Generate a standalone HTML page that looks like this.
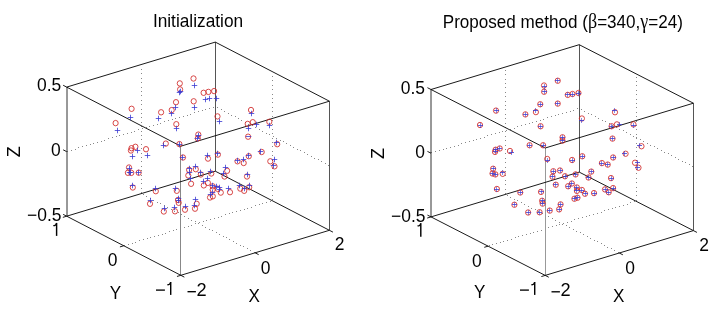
<!DOCTYPE html>
<html><head><meta charset="utf-8"><style>
html,body{margin:0;padding:0;background:#fff;width:720px;height:312px;overflow:hidden}
svg{display:block}
text{font-family:"Liberation Sans",sans-serif;font-size:18px;fill:#000}
.e{stroke:#000;stroke-width:0.9;fill:none}
.v{stroke:#000;stroke-width:0.9;fill:none}
.t{stroke:#000;stroke-width:0.9;fill:none}
.gd{fill:#888;stroke:none}
.tx{opacity:0.995}
.c{stroke:#d02828;stroke-width:0.85;fill:none}
.p{stroke:#3a3ad2;stroke-width:0.8;fill:none}
</style></head><body>
<svg width="720" height="312" viewBox="0 0 720 312">
<rect width="720" height="312" fill="#fff"/>
<path class="gd" d="M254 252h1v1h-1zM250 250h1v1h-1zM247 248h1v1h-1zM243 246h1v1h-1zM240 245h1v1h-1zM236 243h1v1h-1zM233 241h1v1h-1zM229 239h1v1h-1zM226 237h1v1h-1zM223 236h1v1h-1zM219 234h1v1h-1zM216 232h1v1h-1zM212 230h1v1h-1zM209 229h1v1h-1zM205 227h1v1h-1zM202 225h1v1h-1zM198 223h1v1h-1zM195 221h1v1h-1zM191 220h1v1h-1zM188 218h1v1h-1zM184 216h1v1h-1zM181 214h1v1h-1zM178 212h1v1h-1zM174 211h1v1h-1zM171 209h1v1h-1zM167 207h1v1h-1zM164 205h1v1h-1zM160 203h1v1h-1zM157 202h1v1h-1zM153 200h1v1h-1zM150 198h1v1h-1zM146 196h1v1h-1zM143 194h1v1h-1zM124 245h1v1h-1zM128 244h1v1h-1zM132 243h1v1h-1zM135 242h1v1h-1zM139 240h1v1h-1zM143 239h1v1h-1zM147 238h1v1h-1zM150 237h1v1h-1zM154 236h1v1h-1zM158 235h1v1h-1zM162 234h1v1h-1zM165 233h1v1h-1zM169 231h1v1h-1zM173 230h1v1h-1zM176 229h1v1h-1zM180 228h1v1h-1zM184 227h1v1h-1zM188 226h1v1h-1zM191 225h1v1h-1zM195 223h1v1h-1zM199 222h1v1h-1zM203 221h1v1h-1zM206 220h1v1h-1zM210 219h1v1h-1zM214 218h1v1h-1zM218 217h1v1h-1zM221 216h1v1h-1zM225 214h1v1h-1zM229 213h1v1h-1zM232 212h1v1h-1zM236 211h1v1h-1zM240 210h1v1h-1zM244 209h1v1h-1zM247 208h1v1h-1zM251 207h1v1h-1zM255 205h1v1h-1zM259 204h1v1h-1zM262 203h1v1h-1zM266 202h1v1h-1zM270 201h1v1h-1zM141 192h1v1h-1zM141 188h1v1h-1zM141 183h1v1h-1zM141 179h1v1h-1zM141 175h1v1h-1zM141 170h1v1h-1zM141 166h1v1h-1zM141 161h1v1h-1zM141 157h1v1h-1zM141 153h1v1h-1zM141 148h1v1h-1zM141 144h1v1h-1zM141 139h1v1h-1zM141 135h1v1h-1zM141 131h1v1h-1zM141 126h1v1h-1zM141 122h1v1h-1zM141 117h1v1h-1zM141 113h1v1h-1zM141 109h1v1h-1zM141 104h1v1h-1zM141 100h1v1h-1zM141 95h1v1h-1zM141 91h1v1h-1zM141 87h1v1h-1zM141 82h1v1h-1zM141 78h1v1h-1zM141 73h1v1h-1zM141 69h1v1h-1zM67 151h1v1h-1zM71 150h1v1h-1zM75 149h1v1h-1zM78 147h1v1h-1zM82 146h1v1h-1zM86 145h1v1h-1zM90 144h1v1h-1zM93 143h1v1h-1zM97 142h1v1h-1zM101 141h1v1h-1zM104 140h1v1h-1zM108 138h1v1h-1zM112 137h1v1h-1zM116 136h1v1h-1zM119 135h1v1h-1zM123 134h1v1h-1zM127 133h1v1h-1zM131 132h1v1h-1zM134 131h1v1h-1zM138 129h1v1h-1zM142 128h1v1h-1zM146 127h1v1h-1zM149 126h1v1h-1zM153 125h1v1h-1zM157 124h1v1h-1zM160 123h1v1h-1zM164 121h1v1h-1zM168 120h1v1h-1zM172 119h1v1h-1zM175 118h1v1h-1zM179 117h1v1h-1zM183 116h1v1h-1zM187 115h1v1h-1zM190 114h1v1h-1zM194 112h1v1h-1zM198 111h1v1h-1zM202 110h1v1h-1zM205 109h1v1h-1zM209 108h1v1h-1zM213 107h1v1h-1zM272 199h1v1h-1zM272 195h1v1h-1zM272 190h1v1h-1zM272 186h1v1h-1zM272 182h1v1h-1zM272 177h1v1h-1zM272 173h1v1h-1zM272 168h1v1h-1zM272 164h1v1h-1zM272 160h1v1h-1zM272 155h1v1h-1zM272 151h1v1h-1zM272 146h1v1h-1zM272 142h1v1h-1zM272 138h1v1h-1zM272 133h1v1h-1zM272 129h1v1h-1zM272 124h1v1h-1zM272 120h1v1h-1zM272 116h1v1h-1zM272 111h1v1h-1zM272 107h1v1h-1zM272 102h1v1h-1zM272 98h1v1h-1zM272 94h1v1h-1zM272 89h1v1h-1zM272 85h1v1h-1zM272 80h1v1h-1zM272 76h1v1h-1zM328 165h1v1h-1zM325 163h1v1h-1zM321 161h1v1h-1zM318 159h1v1h-1zM314 158h1v1h-1zM311 156h1v1h-1zM307 154h1v1h-1zM304 152h1v1h-1zM300 150h1v1h-1zM297 149h1v1h-1zM293 147h1v1h-1zM290 145h1v1h-1zM286 143h1v1h-1zM283 141h1v1h-1zM280 140h1v1h-1zM276 138h1v1h-1zM273 136h1v1h-1zM269 134h1v1h-1zM266 133h1v1h-1zM262 131h1v1h-1zM259 129h1v1h-1zM255 127h1v1h-1zM252 125h1v1h-1zM248 124h1v1h-1zM245 122h1v1h-1zM241 120h1v1h-1zM238 118h1v1h-1zM235 116h1v1h-1zM231 115h1v1h-1zM228 113h1v1h-1zM224 111h1v1h-1zM221 109h1v1h-1zM217 107h1v1h-1z"/>
<line x1="180.50" y1="275.30" x2="180.50" y2="146.20" stroke="#888" stroke-width="1"/>
<line x1="67.00" y1="216.20" x2="67.00" y2="87.10" stroke="#333" stroke-width="1"/>
<line x1="329.50" y1="230.30" x2="329.50" y2="101.20" stroke="#555" stroke-width="1"/>
<line x1="215.50" y1="171.20" x2="215.50" y2="42.10" stroke="#555" stroke-width="1"/>
<line x1="180.80" y1="275.30" x2="66.70" y2="216.20" class="e"/>
<line x1="180.80" y1="146.20" x2="66.70" y2="87.10" class="e"/>
<line x1="329.40" y1="230.30" x2="215.30" y2="171.20" class="e"/>
<line x1="329.40" y1="101.20" x2="215.30" y2="42.10" class="e"/>
<line x1="180.80" y1="275.30" x2="329.40" y2="230.30" class="e"/>
<line x1="180.80" y1="146.20" x2="329.40" y2="101.20" class="e"/>
<line x1="66.70" y1="216.20" x2="215.30" y2="171.20" class="e"/>
<line x1="66.70" y1="87.10" x2="215.30" y2="42.10" class="e"/>
<line x1="66.70" y1="216.20" x2="63.15" y2="214.36" class="t"/>
<line x1="66.70" y1="151.65" x2="63.15" y2="149.81" class="t"/>
<line x1="66.70" y1="87.10" x2="63.15" y2="85.26" class="t"/>
<line x1="180.80" y1="275.30" x2="176.97" y2="276.46" class="t"/>
<line x1="123.75" y1="245.75" x2="119.92" y2="246.91" class="t"/>
<line x1="66.70" y1="216.20" x2="62.87" y2="217.36" class="t"/>
<line x1="180.80" y1="275.30" x2="184.35" y2="277.14" class="t"/>
<line x1="255.10" y1="252.80" x2="258.65" y2="254.64" class="t"/>
<line x1="329.40" y1="230.30" x2="332.95" y2="232.14" class="t"/>
<path class="gd" d="M618 252h1v1h-1zM614 250h1v1h-1zM611 248h1v1h-1zM607 247h1v1h-1zM604 245h1v1h-1zM601 243h1v1h-1zM597 241h1v1h-1zM594 240h1v1h-1zM590 238h1v1h-1zM587 236h1v1h-1zM583 234h1v1h-1zM580 232h1v1h-1zM576 231h1v1h-1zM573 229h1v1h-1zM569 227h1v1h-1zM566 225h1v1h-1zM562 224h1v1h-1zM559 222h1v1h-1zM555 220h1v1h-1zM552 218h1v1h-1zM548 216h1v1h-1zM545 215h1v1h-1zM542 213h1v1h-1zM538 211h1v1h-1zM535 209h1v1h-1zM531 208h1v1h-1zM528 206h1v1h-1zM524 204h1v1h-1zM521 202h1v1h-1zM517 200h1v1h-1zM514 199h1v1h-1zM510 197h1v1h-1zM507 195h1v1h-1zM489 245h1v1h-1zM492 244h1v1h-1zM496 243h1v1h-1zM500 242h1v1h-1zM503 241h1v1h-1zM507 240h1v1h-1zM511 239h1v1h-1zM515 237h1v1h-1zM518 236h1v1h-1zM522 235h1v1h-1zM526 234h1v1h-1zM530 233h1v1h-1zM533 232h1v1h-1zM537 231h1v1h-1zM541 230h1v1h-1zM545 228h1v1h-1zM548 227h1v1h-1zM552 226h1v1h-1zM556 225h1v1h-1zM559 224h1v1h-1zM563 223h1v1h-1zM567 222h1v1h-1zM571 221h1v1h-1zM574 219h1v1h-1zM578 218h1v1h-1zM582 217h1v1h-1zM586 216h1v1h-1zM589 215h1v1h-1zM593 214h1v1h-1zM597 213h1v1h-1zM601 212h1v1h-1zM604 210h1v1h-1zM608 209h1v1h-1zM612 208h1v1h-1zM615 207h1v1h-1zM619 206h1v1h-1zM623 205h1v1h-1zM627 204h1v1h-1zM630 202h1v1h-1zM634 201h1v1h-1zM505 193h1v1h-1zM505 189h1v1h-1zM505 184h1v1h-1zM505 180h1v1h-1zM505 175h1v1h-1zM505 171h1v1h-1zM505 167h1v1h-1zM505 162h1v1h-1zM505 158h1v1h-1zM505 153h1v1h-1zM505 149h1v1h-1zM505 145h1v1h-1zM505 140h1v1h-1zM505 136h1v1h-1zM505 131h1v1h-1zM505 127h1v1h-1zM505 123h1v1h-1zM505 118h1v1h-1zM505 114h1v1h-1zM505 109h1v1h-1zM505 105h1v1h-1zM505 101h1v1h-1zM505 96h1v1h-1zM505 92h1v1h-1zM505 87h1v1h-1zM505 83h1v1h-1zM505 79h1v1h-1zM505 74h1v1h-1zM505 70h1v1h-1zM431 152h1v1h-1zM435 151h1v1h-1zM439 150h1v1h-1zM443 149h1v1h-1zM446 148h1v1h-1zM450 147h1v1h-1zM454 146h1v1h-1zM458 145h1v1h-1zM461 143h1v1h-1zM465 142h1v1h-1zM469 141h1v1h-1zM473 140h1v1h-1zM476 139h1v1h-1zM480 138h1v1h-1zM484 137h1v1h-1zM487 135h1v1h-1zM491 134h1v1h-1zM495 133h1v1h-1zM499 132h1v1h-1zM502 131h1v1h-1zM506 130h1v1h-1zM510 129h1v1h-1zM514 128h1v1h-1zM517 126h1v1h-1zM521 125h1v1h-1zM525 124h1v1h-1zM529 123h1v1h-1zM532 122h1v1h-1zM536 121h1v1h-1zM540 120h1v1h-1zM543 119h1v1h-1zM547 117h1v1h-1zM551 116h1v1h-1zM555 115h1v1h-1zM558 114h1v1h-1zM562 113h1v1h-1zM566 112h1v1h-1zM570 111h1v1h-1zM573 110h1v1h-1zM577 108h1v1h-1zM636 200h1v1h-1zM636 195h1v1h-1zM636 191h1v1h-1zM636 187h1v1h-1zM636 182h1v1h-1zM636 178h1v1h-1zM636 173h1v1h-1zM636 169h1v1h-1zM636 165h1v1h-1zM636 160h1v1h-1zM636 156h1v1h-1zM636 151h1v1h-1zM636 147h1v1h-1zM636 143h1v1h-1zM636 138h1v1h-1zM636 134h1v1h-1zM636 129h1v1h-1zM636 125h1v1h-1zM636 121h1v1h-1zM636 116h1v1h-1zM636 112h1v1h-1zM636 107h1v1h-1zM636 103h1v1h-1zM636 99h1v1h-1zM636 94h1v1h-1zM636 90h1v1h-1zM636 85h1v1h-1zM636 81h1v1h-1zM636 77h1v1h-1zM692 166h1v1h-1zM689 164h1v1h-1zM685 162h1v1h-1zM682 161h1v1h-1zM678 159h1v1h-1zM675 157h1v1h-1zM671 155h1v1h-1zM668 153h1v1h-1zM664 152h1v1h-1zM661 150h1v1h-1zM657 148h1v1h-1zM654 146h1v1h-1zM650 145h1v1h-1zM647 143h1v1h-1zM643 141h1v1h-1zM640 139h1v1h-1zM636 137h1v1h-1zM633 136h1v1h-1zM630 134h1v1h-1zM626 132h1v1h-1zM623 130h1v1h-1zM619 129h1v1h-1zM616 127h1v1h-1zM612 125h1v1h-1zM609 123h1v1h-1zM605 121h1v1h-1zM602 120h1v1h-1zM598 118h1v1h-1zM595 116h1v1h-1zM591 114h1v1h-1zM588 113h1v1h-1zM584 111h1v1h-1zM581 109h1v1h-1z"/>
<line x1="545.50" y1="275.40" x2="545.50" y2="148.00" stroke="#999" stroke-width="1"/>
<line x1="431.00" y1="216.90" x2="431.00" y2="89.50" stroke="#333" stroke-width="1"/>
<line x1="693.50" y1="230.60" x2="693.50" y2="103.20" stroke="#555" stroke-width="1"/>
<line x1="579.50" y1="172.10" x2="579.50" y2="44.70" stroke="#555" stroke-width="1"/>
<line x1="545.20" y1="275.40" x2="431.00" y2="216.90" class="e"/>
<line x1="545.20" y1="148.00" x2="431.00" y2="89.50" class="e"/>
<line x1="693.40" y1="230.60" x2="579.20" y2="172.10" class="e"/>
<line x1="693.40" y1="103.20" x2="579.20" y2="44.70" class="e"/>
<line x1="545.20" y1="275.40" x2="693.40" y2="230.60" class="e"/>
<line x1="545.20" y1="148.00" x2="693.40" y2="103.20" class="e"/>
<line x1="431.00" y1="216.90" x2="579.20" y2="172.10" class="e"/>
<line x1="431.00" y1="89.50" x2="579.20" y2="44.70" class="e"/>
<line x1="431.00" y1="216.90" x2="427.44" y2="215.08" class="t"/>
<line x1="431.00" y1="153.20" x2="427.44" y2="151.38" class="t"/>
<line x1="431.00" y1="89.50" x2="427.44" y2="87.68" class="t"/>
<line x1="545.20" y1="275.40" x2="541.37" y2="276.56" class="t"/>
<line x1="488.10" y1="246.15" x2="484.27" y2="247.31" class="t"/>
<line x1="431.00" y1="216.90" x2="427.17" y2="218.06" class="t"/>
<line x1="545.20" y1="275.40" x2="548.76" y2="277.22" class="t"/>
<line x1="619.30" y1="253.00" x2="622.86" y2="254.82" class="t"/>
<line x1="693.40" y1="230.60" x2="696.96" y2="232.42" class="t"/>
<g class="tx"><text style="font-size:19.2px" transform="translate(152.88,26.5) scale(0.9004,1)">Initialization</text>
<text transform="translate(37.03,91.30) scale(0.9700,1)">0.5</text>
<text transform="translate(50.93,156.30) scale(0.9700,1)">0</text>
<text transform="translate(27.03,220.50) scale(0.9700,1)">−0.5</text>
<path d="M56.60 222.90V235.90" stroke="#000" stroke-width="1.45" fill="none"/><path d="M53.30 225.65L54.70 225.50Q56.20 225.10 56.50 223.10" stroke="#000" stroke-width="1.3" fill="none"/>
<text transform="translate(107.83,265.80) scale(0.9700,1)">0</text>
<path d="M156.00 290.10H164.90" stroke="#000" stroke-width="1.35" fill="none"/>
<path d="M170.70 282.00V294.90" stroke="#000" stroke-width="1.45" fill="none"/><path d="M167.40 284.75L168.80 284.60Q170.30 284.20 170.60 282.20" stroke="#000" stroke-width="1.3" fill="none"/>
<path d="M187.50 291.70H195.90" stroke="#000" stroke-width="1.35" fill="none"/>
<text transform="translate(196.49,296.40) scale(1.0125,1)">2</text>
<text transform="translate(260.83,273.80) scale(0.9700,1)">0</text>
<text transform="translate(334.83,250.00) scale(0.9700,1)">2</text>
<text transform="translate(248.55,301.70) scale(0.9500,1)">X</text>
<text transform="translate(109.75,298.80) scale(0.9500,1)">Y</text>
<text transform="translate(20.0,157.3) rotate(-90) scale(1.0,1)">Z</text>
<text style="font-size:19.2px" transform="translate(442.75,27.8) scale(0.8901,1)">Proposed method (<tspan style="font-family:'Liberation Serif';font-size:20.3px">β</tspan>=340,<tspan style="font-family:'Liberation Serif';font-size:20.3px">γ</tspan>=24)</text>
<text transform="translate(400.73,93.80) scale(0.9700,1)">0.5</text>
<text transform="translate(415.13,157.60) scale(0.9700,1)">0</text>
<text transform="translate(391.03,221.70) scale(0.9700,1)">−0.5</text>
<path d="M420.80 223.20V236.80" stroke="#000" stroke-width="1.45" fill="none"/><path d="M417.50 225.95L418.90 225.80Q420.40 225.40 420.70 223.40" stroke="#000" stroke-width="1.3" fill="none"/>
<text transform="translate(472.03,266.50) scale(0.9700,1)">0</text>
<path d="M520.00 290.10H528.90" stroke="#000" stroke-width="1.35" fill="none"/>
<path d="M534.70 282.00V294.90" stroke="#000" stroke-width="1.45" fill="none"/><path d="M531.40 284.75L532.80 284.60Q534.30 284.20 534.60 282.20" stroke="#000" stroke-width="1.3" fill="none"/>
<path d="M551.50 291.80H559.90" stroke="#000" stroke-width="1.35" fill="none"/>
<text transform="translate(560.49,296.40) scale(1.0125,1)">2</text>
<text transform="translate(625.23,274.00) scale(0.9700,1)">0</text>
<text transform="translate(699.23,250.50) scale(0.9700,1)">2</text>
<text transform="translate(612.95,301.70) scale(0.9500,1)">X</text>
<text transform="translate(474.05,297.70) scale(0.9500,1)">Y</text>
<text transform="translate(384.1,158.9) rotate(-90) scale(1.0,1)">Z</text></g>
<ellipse cx="131.60" cy="108.80" rx="2.60" ry="2.70" class="c"/>
<ellipse cx="161.10" cy="112.30" rx="2.60" ry="2.70" class="c"/>
<ellipse cx="171.70" cy="110.10" rx="2.60" ry="2.70" class="c"/>
<ellipse cx="176.00" cy="102.20" rx="2.60" ry="2.70" class="c"/>
<ellipse cx="179.80" cy="83.40" rx="2.60" ry="2.70" class="c"/>
<ellipse cx="180.10" cy="89.40" rx="2.60" ry="2.70" class="c"/>
<ellipse cx="193.50" cy="78.50" rx="2.60" ry="2.70" class="c"/>
<ellipse cx="193.70" cy="101.30" rx="2.60" ry="2.70" class="c"/>
<ellipse cx="203.60" cy="92.80" rx="2.60" ry="2.70" class="c"/>
<ellipse cx="208.40" cy="91.90" rx="2.60" ry="2.70" class="c"/>
<ellipse cx="214.10" cy="91.10" rx="2.60" ry="2.70" class="c"/>
<ellipse cx="217.50" cy="116.40" rx="2.60" ry="2.70" class="c"/>
<ellipse cx="251.00" cy="110.00" rx="2.60" ry="2.70" class="c"/>
<ellipse cx="247.70" cy="123.90" rx="2.60" ry="2.70" class="c"/>
<ellipse cx="252.80" cy="122.20" rx="2.60" ry="2.70" class="c"/>
<ellipse cx="269.30" cy="121.80" rx="2.60" ry="2.70" class="c"/>
<ellipse cx="248.10" cy="136.70" rx="2.60" ry="2.70" class="c"/>
<ellipse cx="277.20" cy="144.20" rx="2.60" ry="2.70" class="c"/>
<ellipse cx="115.60" cy="123.10" rx="2.60" ry="2.70" class="c"/>
<ellipse cx="176.30" cy="124.20" rx="2.60" ry="2.70" class="c"/>
<ellipse cx="198.30" cy="134.60" rx="2.60" ry="2.70" class="c"/>
<ellipse cx="197.80" cy="138.40" rx="2.60" ry="2.70" class="c"/>
<ellipse cx="165.80" cy="143.60" rx="2.60" ry="2.70" class="c"/>
<ellipse cx="179.40" cy="144.10" rx="2.60" ry="2.70" class="c"/>
<ellipse cx="131.50" cy="148.20" rx="2.60" ry="2.70" class="c"/>
<ellipse cx="135.40" cy="146.80" rx="2.60" ry="2.70" class="c"/>
<ellipse cx="130.90" cy="150.50" rx="2.60" ry="2.70" class="c"/>
<ellipse cx="146.00" cy="149.20" rx="2.60" ry="2.70" class="c"/>
<ellipse cx="183.00" cy="157.50" rx="2.60" ry="2.70" class="c"/>
<ellipse cx="208.00" cy="158.60" rx="2.60" ry="2.70" class="c"/>
<ellipse cx="217.90" cy="154.60" rx="2.60" ry="2.70" class="c"/>
<ellipse cx="261.70" cy="152.00" rx="2.60" ry="2.70" class="c"/>
<ellipse cx="248.80" cy="156.20" rx="2.60" ry="2.70" class="c"/>
<ellipse cx="237.50" cy="161.30" rx="2.60" ry="2.70" class="c"/>
<ellipse cx="243.70" cy="163.00" rx="2.60" ry="2.70" class="c"/>
<ellipse cx="270.30" cy="161.30" rx="2.60" ry="2.70" class="c"/>
<ellipse cx="274.50" cy="166.30" rx="2.60" ry="2.70" class="c"/>
<ellipse cx="247.00" cy="176.50" rx="2.60" ry="2.70" class="c"/>
<ellipse cx="129.00" cy="167.50" rx="2.60" ry="2.70" class="c"/>
<ellipse cx="127.90" cy="172.80" rx="2.60" ry="2.70" class="c"/>
<ellipse cx="131.30" cy="172.90" rx="2.60" ry="2.70" class="c"/>
<ellipse cx="138.70" cy="172.70" rx="2.60" ry="2.70" class="c"/>
<ellipse cx="132.80" cy="187.50" rx="2.60" ry="2.70" class="c"/>
<ellipse cx="155.80" cy="191.20" rx="2.60" ry="2.70" class="c"/>
<ellipse cx="176.80" cy="190.80" rx="2.60" ry="2.70" class="c"/>
<ellipse cx="150.00" cy="203.80" rx="2.60" ry="2.70" class="c"/>
<ellipse cx="178.00" cy="200.00" rx="2.60" ry="2.70" class="c"/>
<ellipse cx="178.70" cy="202.80" rx="2.60" ry="2.70" class="c"/>
<ellipse cx="163.80" cy="211.50" rx="2.60" ry="2.70" class="c"/>
<ellipse cx="175.00" cy="211.30" rx="2.60" ry="2.70" class="c"/>
<ellipse cx="185.00" cy="209.70" rx="2.60" ry="2.70" class="c"/>
<ellipse cx="195.00" cy="208.70" rx="2.60" ry="2.70" class="c"/>
<ellipse cx="196.70" cy="203.80" rx="2.60" ry="2.70" class="c"/>
<ellipse cx="195.80" cy="169.20" rx="2.60" ry="2.70" class="c"/>
<ellipse cx="189.10" cy="169.90" rx="2.60" ry="2.70" class="c"/>
<ellipse cx="188.30" cy="175.50" rx="2.60" ry="2.70" class="c"/>
<ellipse cx="227.10" cy="170.80" rx="2.60" ry="2.70" class="c"/>
<ellipse cx="211.30" cy="173.50" rx="2.60" ry="2.70" class="c"/>
<ellipse cx="200.80" cy="174.50" rx="2.60" ry="2.70" class="c"/>
<ellipse cx="224.50" cy="176.50" rx="2.60" ry="2.70" class="c"/>
<ellipse cx="191.10" cy="183.80" rx="2.60" ry="2.70" class="c"/>
<ellipse cx="203.80" cy="185.40" rx="2.60" ry="2.70" class="c"/>
<ellipse cx="207.90" cy="182.90" rx="2.60" ry="2.70" class="c"/>
<ellipse cx="212.70" cy="186.30" rx="2.60" ry="2.70" class="c"/>
<ellipse cx="217.70" cy="188.80" rx="2.60" ry="2.70" class="c"/>
<ellipse cx="220.80" cy="192.60" rx="2.60" ry="2.70" class="c"/>
<ellipse cx="210.00" cy="197.50" rx="2.60" ry="2.70" class="c"/>
<ellipse cx="212.80" cy="196.30" rx="2.60" ry="2.70" class="c"/>
<ellipse cx="230.00" cy="192.20" rx="2.60" ry="2.70" class="c"/>
<ellipse cx="240.30" cy="188.60" rx="2.60" ry="2.70" class="c"/>
<ellipse cx="244.20" cy="190.80" rx="2.60" ry="2.70" class="c"/>
<ellipse cx="249.20" cy="187.20" rx="2.60" ry="2.70" class="c"/>
<ellipse cx="212.70" cy="189.70" rx="2.60" ry="2.70" class="c"/>
<path d="M127.75 117.50h5.50" class="p"/>
<path d="M130.50 114.75v5.50" class="p"/>
<path d="M155.75 118.50h5.50" class="p"/>
<path d="M158.50 115.75v5.50" class="p"/>
<path d="M168.75 113.50h5.50" class="p"/>
<path d="M171.50 110.75v5.50" class="p"/>
<path d="M172.75 107.50h5.50" class="p"/>
<path d="M175.50 104.75v5.50" class="p"/>
<path d="M176.75 92.50h5.50" class="p"/>
<path d="M179.50 89.75v5.50" class="p"/>
<path d="M191.75 85.50h5.50" class="p"/>
<path d="M194.50 82.75v5.50" class="p"/>
<path d="M191.75 107.50h5.50" class="p"/>
<path d="M194.50 104.75v5.50" class="p"/>
<path d="M202.75 99.50h5.50" class="p"/>
<path d="M205.50 96.75v5.50" class="p"/>
<path d="M206.75 98.50h5.50" class="p"/>
<path d="M209.50 95.75v5.50" class="p"/>
<path d="M213.75 98.50h5.50" class="p"/>
<path d="M216.50 95.75v5.50" class="p"/>
<path d="M216.75 121.50h5.50" class="p"/>
<path d="M219.50 118.75v5.50" class="p"/>
<path d="M248.75 113.50h5.50" class="p"/>
<path d="M251.50 110.75v5.50" class="p"/>
<path d="M245.75 128.50h5.50" class="p"/>
<path d="M248.50 125.75v5.50" class="p"/>
<path d="M253.75 124.50h5.50" class="p"/>
<path d="M256.50 121.75v5.50" class="p"/>
<path d="M266.75 125.50h5.50" class="p"/>
<path d="M269.50 122.75v5.50" class="p"/>
<path d="M245.75 136.50h5.50" class="p"/>
<path d="M273.75 142.50h5.50" class="p"/>
<path d="M276.50 139.75v5.50" class="p"/>
<path d="M114.75 130.50h5.50" class="p"/>
<path d="M117.50 127.75v5.50" class="p"/>
<path d="M173.75 128.50h5.50" class="p"/>
<path d="M176.50 125.75v5.50" class="p"/>
<path d="M195.75 135.50h5.50" class="p"/>
<path d="M198.50 132.75v5.50" class="p"/>
<path d="M194.75 138.50h5.50" class="p"/>
<path d="M197.50 135.75v5.50" class="p"/>
<path d="M160.75 145.50h5.50" class="p"/>
<path d="M163.50 142.75v5.50" class="p"/>
<path d="M176.75 144.50h5.50" class="p"/>
<path d="M179.50 141.75v5.50" class="p"/>
<path d="M129.75 156.50h5.50" class="p"/>
<path d="M132.50 153.75v5.50" class="p"/>
<path d="M134.75 150.50h5.50" class="p"/>
<path d="M137.50 147.75v5.50" class="p"/>
<path d="M144.75 155.50h5.50" class="p"/>
<path d="M147.50 152.75v5.50" class="p"/>
<path d="M179.75 157.50h5.50" class="p"/>
<path d="M182.50 154.75v5.50" class="p"/>
<path d="M204.75 155.50h5.50" class="p"/>
<path d="M207.50 152.75v5.50" class="p"/>
<path d="M214.75 153.50h5.50" class="p"/>
<path d="M217.50 150.75v5.50" class="p"/>
<path d="M257.75 151.50h5.50" class="p"/>
<path d="M260.50 148.75v5.50" class="p"/>
<path d="M245.75 155.50h5.50" class="p"/>
<path d="M248.50 152.75v5.50" class="p"/>
<path d="M234.75 160.50h5.50" class="p"/>
<path d="M237.50 157.75v5.50" class="p"/>
<path d="M240.75 159.50h5.50" class="p"/>
<path d="M243.50 156.75v5.50" class="p"/>
<path d="M271.75 159.50h5.50" class="p"/>
<path d="M274.50 156.75v5.50" class="p"/>
<path d="M270.75 165.50h5.50" class="p"/>
<path d="M273.50 162.75v5.50" class="p"/>
<path d="M244.75 174.50h5.50" class="p"/>
<path d="M247.50 171.75v5.50" class="p"/>
<path d="M126.75 172.50h5.50" class="p"/>
<path d="M129.50 169.75v5.50" class="p"/>
<path d="M127.75 172.50h5.50" class="p"/>
<path d="M130.50 169.75v5.50" class="p"/>
<path d="M135.75 172.50h5.50" class="p"/>
<path d="M138.50 169.75v5.50" class="p"/>
<path d="M129.75 185.50h5.50" class="p"/>
<path d="M132.50 182.75v5.50" class="p"/>
<path d="M152.75 188.50h5.50" class="p"/>
<path d="M155.50 185.75v5.50" class="p"/>
<path d="M172.75 188.50h5.50" class="p"/>
<path d="M175.50 185.75v5.50" class="p"/>
<path d="M147.75 200.50h5.50" class="p"/>
<path d="M150.50 197.75v5.50" class="p"/>
<path d="M175.75 198.50h5.50" class="p"/>
<path d="M178.50 195.75v5.50" class="p"/>
<path d="M161.75 208.50h5.50" class="p"/>
<path d="M164.50 205.75v5.50" class="p"/>
<path d="M171.75 207.50h5.50" class="p"/>
<path d="M174.50 204.75v5.50" class="p"/>
<path d="M182.75 206.50h5.50" class="p"/>
<path d="M185.50 203.75v5.50" class="p"/>
<path d="M191.75 205.50h5.50" class="p"/>
<path d="M194.50 202.75v5.50" class="p"/>
<path d="M192.75 199.50h5.50" class="p"/>
<path d="M195.50 196.75v5.50" class="p"/>
<path d="M192.75 166.50h5.50" class="p"/>
<path d="M195.50 163.75v5.50" class="p"/>
<path d="M186.75 168.50h5.50" class="p"/>
<path d="M189.50 165.75v5.50" class="p"/>
<path d="M222.75 167.50h5.50" class="p"/>
<path d="M225.50 164.75v5.50" class="p"/>
<path d="M207.75 171.50h5.50" class="p"/>
<path d="M210.50 168.75v5.50" class="p"/>
<path d="M197.75 172.50h5.50" class="p"/>
<path d="M200.50 169.75v5.50" class="p"/>
<path d="M220.75 173.50h5.50" class="p"/>
<path d="M223.50 170.75v5.50" class="p"/>
<path d="M187.75 178.50h5.50" class="p"/>
<path d="M190.50 175.75v5.50" class="p"/>
<path d="M200.75 181.50h5.50" class="p"/>
<path d="M203.50 178.75v5.50" class="p"/>
<path d="M204.75 178.50h5.50" class="p"/>
<path d="M207.50 175.75v5.50" class="p"/>
<path d="M209.75 185.50h5.50" class="p"/>
<path d="M212.50 182.75v5.50" class="p"/>
<path d="M213.75 186.50h5.50" class="p"/>
<path d="M216.50 183.75v5.50" class="p"/>
<path d="M216.75 187.50h5.50" class="p"/>
<path d="M219.50 184.75v5.50" class="p"/>
<path d="M207.75 194.50h5.50" class="p"/>
<path d="M210.50 191.75v5.50" class="p"/>
<path d="M209.75 192.50h5.50" class="p"/>
<path d="M212.50 189.75v5.50" class="p"/>
<path d="M225.75 188.50h5.50" class="p"/>
<path d="M228.50 185.75v5.50" class="p"/>
<path d="M236.75 185.50h5.50" class="p"/>
<path d="M239.50 182.75v5.50" class="p"/>
<path d="M241.75 188.50h5.50" class="p"/>
<path d="M244.50 185.75v5.50" class="p"/>
<path d="M246.75 185.50h5.50" class="p"/>
<path d="M249.50 182.75v5.50" class="p"/>
<path d="M177.75 91.50h5.50" class="p"/>
<path d="M180.50 88.75v5.50" class="p"/>
<path d="M126.75 168.50h5.50" class="p"/>
<path d="M129.50 165.75v5.50" class="p"/>
<path d="M175.75 200.50h5.50" class="p"/>
<path d="M178.50 197.75v5.50" class="p"/>
<path d="M186.75 172.50h5.50" class="p"/>
<path d="M189.50 169.75v5.50" class="p"/>
<path d="M216.75 189.50h5.50" class="p"/>
<path d="M219.50 186.75v5.50" class="p"/>
<ellipse cx="557.75" cy="80.75" rx="2.60" ry="2.70" class="c"/>
<ellipse cx="544.00" cy="85.50" rx="2.60" ry="2.70" class="c"/>
<ellipse cx="544.10" cy="91.75" rx="2.60" ry="2.70" class="c"/>
<ellipse cx="540.25" cy="104.25" rx="2.60" ry="2.70" class="c"/>
<ellipse cx="557.75" cy="103.60" rx="2.60" ry="2.70" class="c"/>
<ellipse cx="567.75" cy="94.90" rx="2.60" ry="2.70" class="c"/>
<ellipse cx="572.50" cy="94.00" rx="2.60" ry="2.70" class="c"/>
<ellipse cx="578.50" cy="93.00" rx="2.60" ry="2.70" class="c"/>
<ellipse cx="496.00" cy="110.60" rx="2.60" ry="2.70" class="c"/>
<ellipse cx="480.00" cy="125.00" rx="2.60" ry="2.70" class="c"/>
<ellipse cx="525.40" cy="114.40" rx="2.60" ry="2.70" class="c"/>
<ellipse cx="535.90" cy="112.10" rx="2.60" ry="2.70" class="c"/>
<ellipse cx="540.60" cy="126.25" rx="2.60" ry="2.70" class="c"/>
<ellipse cx="615.00" cy="112.25" rx="2.60" ry="2.70" class="c"/>
<ellipse cx="581.90" cy="118.50" rx="2.60" ry="2.70" class="c"/>
<ellipse cx="611.60" cy="126.25" rx="2.60" ry="2.70" class="c"/>
<ellipse cx="616.90" cy="124.40" rx="2.60" ry="2.70" class="c"/>
<ellipse cx="633.50" cy="124.40" rx="2.60" ry="2.70" class="c"/>
<ellipse cx="612.50" cy="138.60" rx="2.60" ry="2.70" class="c"/>
<ellipse cx="562.50" cy="137.30" rx="2.60" ry="2.70" class="c"/>
<ellipse cx="562.50" cy="140.60" rx="2.60" ry="2.70" class="c"/>
<ellipse cx="529.60" cy="145.25" rx="2.60" ry="2.70" class="c"/>
<ellipse cx="543.10" cy="145.25" rx="2.60" ry="2.70" class="c"/>
<ellipse cx="510.00" cy="151.00" rx="2.60" ry="2.70" class="c"/>
<ellipse cx="499.75" cy="148.50" rx="2.60" ry="2.70" class="c"/>
<ellipse cx="495.60" cy="149.75" rx="2.60" ry="2.70" class="c"/>
<ellipse cx="495.00" cy="151.90" rx="2.60" ry="2.70" class="c"/>
<ellipse cx="547.25" cy="159.00" rx="2.60" ry="2.70" class="c"/>
<ellipse cx="493.10" cy="168.75" rx="2.60" ry="2.70" class="c"/>
<ellipse cx="502.70" cy="173.80" rx="2.60" ry="2.70" class="c"/>
<ellipse cx="553.30" cy="171.25" rx="2.60" ry="2.70" class="c"/>
<ellipse cx="552.50" cy="176.70" rx="2.60" ry="2.70" class="c"/>
<ellipse cx="560.00" cy="170.50" rx="2.60" ry="2.70" class="c"/>
<ellipse cx="641.50" cy="146.25" rx="2.60" ry="2.70" class="c"/>
<ellipse cx="625.60" cy="153.75" rx="2.60" ry="2.70" class="c"/>
<ellipse cx="613.10" cy="157.50" rx="2.60" ry="2.70" class="c"/>
<ellipse cx="582.25" cy="156.25" rx="2.60" ry="2.70" class="c"/>
<ellipse cx="572.10" cy="160.00" rx="2.60" ry="2.70" class="c"/>
<ellipse cx="601.90" cy="163.10" rx="2.60" ry="2.70" class="c"/>
<ellipse cx="607.75" cy="164.60" rx="2.60" ry="2.70" class="c"/>
<ellipse cx="635.00" cy="162.75" rx="2.60" ry="2.70" class="c"/>
<ellipse cx="638.50" cy="167.75" rx="2.60" ry="2.70" class="c"/>
<ellipse cx="591.25" cy="171.60" rx="2.60" ry="2.70" class="c"/>
<ellipse cx="492.50" cy="173.50" rx="2.60" ry="2.70" class="c"/>
<ellipse cx="495.40" cy="174.40" rx="2.60" ry="2.70" class="c"/>
<ellipse cx="496.90" cy="189.00" rx="2.60" ry="2.70" class="c"/>
<ellipse cx="520.25" cy="192.50" rx="2.60" ry="2.70" class="c"/>
<ellipse cx="541.00" cy="191.90" rx="2.60" ry="2.70" class="c"/>
<ellipse cx="542.10" cy="200.80" rx="2.60" ry="2.70" class="c"/>
<ellipse cx="542.60" cy="203.60" rx="2.60" ry="2.70" class="c"/>
<ellipse cx="514.40" cy="204.75" rx="2.60" ry="2.70" class="c"/>
<ellipse cx="555.80" cy="184.75" rx="2.60" ry="2.70" class="c"/>
<ellipse cx="560.60" cy="204.40" rx="2.60" ry="2.70" class="c"/>
<ellipse cx="565.00" cy="176.25" rx="2.60" ry="2.70" class="c"/>
<ellipse cx="575.60" cy="174.40" rx="2.60" ry="2.70" class="c"/>
<ellipse cx="588.50" cy="177.50" rx="2.60" ry="2.70" class="c"/>
<ellipse cx="611.00" cy="178.10" rx="2.60" ry="2.70" class="c"/>
<ellipse cx="568.10" cy="186.25" rx="2.60" ry="2.70" class="c"/>
<ellipse cx="571.90" cy="183.50" rx="2.60" ry="2.70" class="c"/>
<ellipse cx="576.90" cy="187.50" rx="2.60" ry="2.70" class="c"/>
<ellipse cx="576.90" cy="190.90" rx="2.60" ry="2.70" class="c"/>
<ellipse cx="581.90" cy="190.00" rx="2.60" ry="2.70" class="c"/>
<ellipse cx="585.00" cy="193.75" rx="2.60" ry="2.70" class="c"/>
<ellipse cx="594.00" cy="193.10" rx="2.60" ry="2.70" class="c"/>
<ellipse cx="605.00" cy="189.40" rx="2.60" ry="2.70" class="c"/>
<ellipse cx="608.75" cy="192.25" rx="2.60" ry="2.70" class="c"/>
<ellipse cx="613.10" cy="188.10" rx="2.60" ry="2.70" class="c"/>
<ellipse cx="574.40" cy="198.75" rx="2.60" ry="2.70" class="c"/>
<ellipse cx="577.50" cy="197.75" rx="2.60" ry="2.70" class="c"/>
<ellipse cx="528.10" cy="212.50" rx="2.60" ry="2.70" class="c"/>
<ellipse cx="539.60" cy="212.25" rx="2.60" ry="2.70" class="c"/>
<ellipse cx="549.75" cy="210.60" rx="2.60" ry="2.70" class="c"/>
<ellipse cx="559.10" cy="209.40" rx="2.60" ry="2.70" class="c"/>
<path d="M555.00 80.50h5.00" class="p"/>
<path d="M557.50 78.00v5.00" class="p" opacity="0.75"/>
<path d="M542.00 86.50h5.00" class="p"/>
<path d="M544.50 84.00v5.00" class="p" opacity="0.75"/>
<path d="M542.00 91.50h5.00" class="p"/>
<path d="M544.50 89.00v5.00" class="p" opacity="0.75"/>
<path d="M538.00 104.50h5.00" class="p"/>
<path d="M540.50 102.00v5.00" class="p" opacity="0.75"/>
<path d="M555.00 103.50h5.00" class="p"/>
<path d="M557.50 101.00v5.00" class="p" opacity="0.75"/>
<path d="M565.00 94.50h5.00" class="p"/>
<path d="M567.50 92.00v5.00" class="p" opacity="0.75"/>
<path d="M570.00 94.50h5.00" class="p"/>
<path d="M572.50 92.00v5.00" class="p" opacity="0.75"/>
<path d="M576.00 93.50h5.00" class="p"/>
<path d="M578.50 91.00v5.00" class="p" opacity="0.75"/>
<path d="M494.00 110.50h5.00" class="p"/>
<path d="M496.50 108.00v5.00" class="p" opacity="0.75"/>
<path d="M478.00 125.50h5.00" class="p"/>
<path d="M480.50 123.00v5.00" class="p" opacity="0.75"/>
<path d="M523.00 114.50h5.00" class="p"/>
<path d="M525.50 112.00v5.00" class="p" opacity="0.75"/>
<path d="M533.00 110.50h5.00" class="p"/>
<path d="M535.50 108.00v5.00" class="p" opacity="0.75"/>
<path d="M538.00 126.50h5.00" class="p"/>
<path d="M540.50 124.00v5.00" class="p" opacity="0.75"/>
<path d="M612.00 110.50h5.00" class="p"/>
<path d="M614.50 108.00v5.00" class="p" opacity="0.75"/>
<path d="M579.00 120.50h5.00" class="p"/>
<path d="M581.50 118.00v5.00" class="p" opacity="0.75"/>
<path d="M609.00 126.50h5.00" class="p"/>
<path d="M611.50 124.00v5.00" class="p" opacity="0.75"/>
<path d="M617.00 124.50h5.00" class="p"/>
<path d="M619.50 122.00v5.00" class="p" opacity="0.75"/>
<path d="M631.00 125.50h5.00" class="p"/>
<path d="M633.50 123.00v5.00" class="p" opacity="0.75"/>
<path d="M610.00 138.50h5.00" class="p"/>
<path d="M612.50 136.00v5.00" class="p" opacity="0.75"/>
<path d="M560.00 137.50h5.00" class="p"/>
<path d="M562.50 135.00v5.00" class="p" opacity="0.75"/>
<path d="M560.00 140.50h5.00" class="p"/>
<path d="M562.50 138.00v5.00" class="p" opacity="0.75"/>
<path d="M527.00 145.50h5.00" class="p"/>
<path d="M529.50 143.00v5.00" class="p" opacity="0.75"/>
<path d="M541.00 145.50h5.00" class="p"/>
<path d="M543.50 143.00v5.00" class="p" opacity="0.75"/>
<path d="M509.00 152.50h5.00" class="p"/>
<path d="M511.50 150.00v5.00" class="p" opacity="0.75"/>
<path d="M497.00 148.50h5.00" class="p"/>
<path d="M499.50 146.00v5.00" class="p" opacity="0.75"/>
<path d="M493.00 149.50h5.00" class="p"/>
<path d="M495.50 147.00v5.00" class="p" opacity="0.75"/>
<path d="M493.00 151.50h5.00" class="p"/>
<path d="M495.50 149.00v5.00" class="p" opacity="0.75"/>
<path d="M545.00 160.50h5.00" class="p"/>
<path d="M547.50 158.00v5.00" class="p" opacity="0.75"/>
<path d="M491.00 168.50h5.00" class="p"/>
<path d="M493.50 166.00v5.00" class="p" opacity="0.75"/>
<path d="M500.00 172.50h5.00" class="p"/>
<path d="M502.50 170.00v5.00" class="p" opacity="0.75"/>
<path d="M551.00 171.50h5.00" class="p"/>
<path d="M553.50 169.00v5.00" class="p" opacity="0.75"/>
<path d="M550.00 176.50h5.00" class="p"/>
<path d="M552.50 174.00v5.00" class="p" opacity="0.75"/>
<path d="M558.00 170.50h5.00" class="p"/>
<path d="M560.50 168.00v5.00" class="p" opacity="0.75"/>
<path d="M637.00 145.50h5.00" class="p"/>
<path d="M639.50 143.00v5.00" class="p" opacity="0.75"/>
<path d="M622.00 153.50h5.00" class="p"/>
<path d="M624.50 151.00v5.00" class="p" opacity="0.75"/>
<path d="M611.00 157.50h5.00" class="p"/>
<path d="M613.50 155.00v5.00" class="p" opacity="0.75"/>
<path d="M580.00 156.50h5.00" class="p"/>
<path d="M582.50 154.00v5.00" class="p" opacity="0.75"/>
<path d="M570.00 160.50h5.00" class="p"/>
<path d="M572.50 158.00v5.00" class="p" opacity="0.75"/>
<path d="M599.00 163.50h5.00" class="p"/>
<path d="M601.50 161.00v5.00" class="p" opacity="0.75"/>
<path d="M605.00 164.50h5.00" class="p"/>
<path d="M607.50 162.00v5.00" class="p" opacity="0.75"/>
<path d="M635.00 162.50h5.00" class="p"/>
<path d="M637.50 160.00v5.00" class="p" opacity="0.75"/>
<path d="M635.00 167.50h5.00" class="p"/>
<path d="M637.50 165.00v5.00" class="p" opacity="0.75"/>
<path d="M589.00 171.50h5.00" class="p"/>
<path d="M591.50 169.00v5.00" class="p" opacity="0.75"/>
<path d="M490.00 173.50h5.00" class="p"/>
<path d="M492.50 171.00v5.00" class="p" opacity="0.75"/>
<path d="M493.00 174.50h5.00" class="p"/>
<path d="M495.50 172.00v5.00" class="p" opacity="0.75"/>
<path d="M494.00 189.50h5.00" class="p"/>
<path d="M496.50 187.00v5.00" class="p" opacity="0.75"/>
<path d="M518.00 192.50h5.00" class="p"/>
<path d="M520.50 190.00v5.00" class="p" opacity="0.75"/>
<path d="M539.00 191.50h5.00" class="p"/>
<path d="M541.50 189.00v5.00" class="p" opacity="0.75"/>
<path d="M540.00 200.50h5.00" class="p"/>
<path d="M542.50 198.00v5.00" class="p" opacity="0.75"/>
<path d="M540.00 203.50h5.00" class="p"/>
<path d="M542.50 201.00v5.00" class="p" opacity="0.75"/>
<path d="M512.00 204.50h5.00" class="p"/>
<path d="M514.50 202.00v5.00" class="p" opacity="0.75"/>
<path d="M553.00 184.50h5.00" class="p"/>
<path d="M555.50 182.00v5.00" class="p" opacity="0.75"/>
<path d="M558.00 204.50h5.00" class="p"/>
<path d="M560.50 202.00v5.00" class="p" opacity="0.75"/>
<path d="M563.00 176.50h5.00" class="p"/>
<path d="M565.50 174.00v5.00" class="p" opacity="0.75"/>
<path d="M573.00 174.50h5.00" class="p"/>
<path d="M575.50 172.00v5.00" class="p" opacity="0.75"/>
<path d="M586.00 177.50h5.00" class="p"/>
<path d="M588.50 175.00v5.00" class="p" opacity="0.75"/>
<path d="M609.00 178.50h5.00" class="p"/>
<path d="M611.50 176.00v5.00" class="p" opacity="0.75"/>
<path d="M566.00 186.50h5.00" class="p"/>
<path d="M568.50 184.00v5.00" class="p" opacity="0.75"/>
<path d="M569.00 183.50h5.00" class="p"/>
<path d="M571.50 181.00v5.00" class="p" opacity="0.75"/>
<path d="M574.00 187.50h5.00" class="p"/>
<path d="M576.50 185.00v5.00" class="p" opacity="0.75"/>
<path d="M574.00 190.50h5.00" class="p"/>
<path d="M576.50 188.00v5.00" class="p" opacity="0.75"/>
<path d="M579.00 190.50h5.00" class="p"/>
<path d="M581.50 188.00v5.00" class="p" opacity="0.75"/>
<path d="M583.00 193.50h5.00" class="p"/>
<path d="M585.50 191.00v5.00" class="p" opacity="0.75"/>
<path d="M592.00 193.50h5.00" class="p"/>
<path d="M594.50 191.00v5.00" class="p" opacity="0.75"/>
<path d="M603.00 189.50h5.00" class="p"/>
<path d="M605.50 187.00v5.00" class="p" opacity="0.75"/>
<path d="M606.00 192.50h5.00" class="p"/>
<path d="M608.50 190.00v5.00" class="p" opacity="0.75"/>
<path d="M611.00 188.50h5.00" class="p"/>
<path d="M613.50 186.00v5.00" class="p" opacity="0.75"/>
<path d="M572.00 198.50h5.00" class="p"/>
<path d="M574.50 196.00v5.00" class="p" opacity="0.75"/>
<path d="M575.00 197.50h5.00" class="p"/>
<path d="M577.50 195.00v5.00" class="p" opacity="0.75"/>
<path d="M526.00 212.50h5.00" class="p"/>
<path d="M528.50 210.00v5.00" class="p" opacity="0.75"/>
<path d="M537.00 212.50h5.00" class="p"/>
<path d="M539.50 210.00v5.00" class="p" opacity="0.75"/>
<path d="M547.00 210.50h5.00" class="p"/>
<path d="M549.50 208.00v5.00" class="p" opacity="0.75"/>
<path d="M557.00 209.50h5.00" class="p"/>
<path d="M559.50 207.00v5.00" class="p" opacity="0.75"/>
</svg></body></html>
